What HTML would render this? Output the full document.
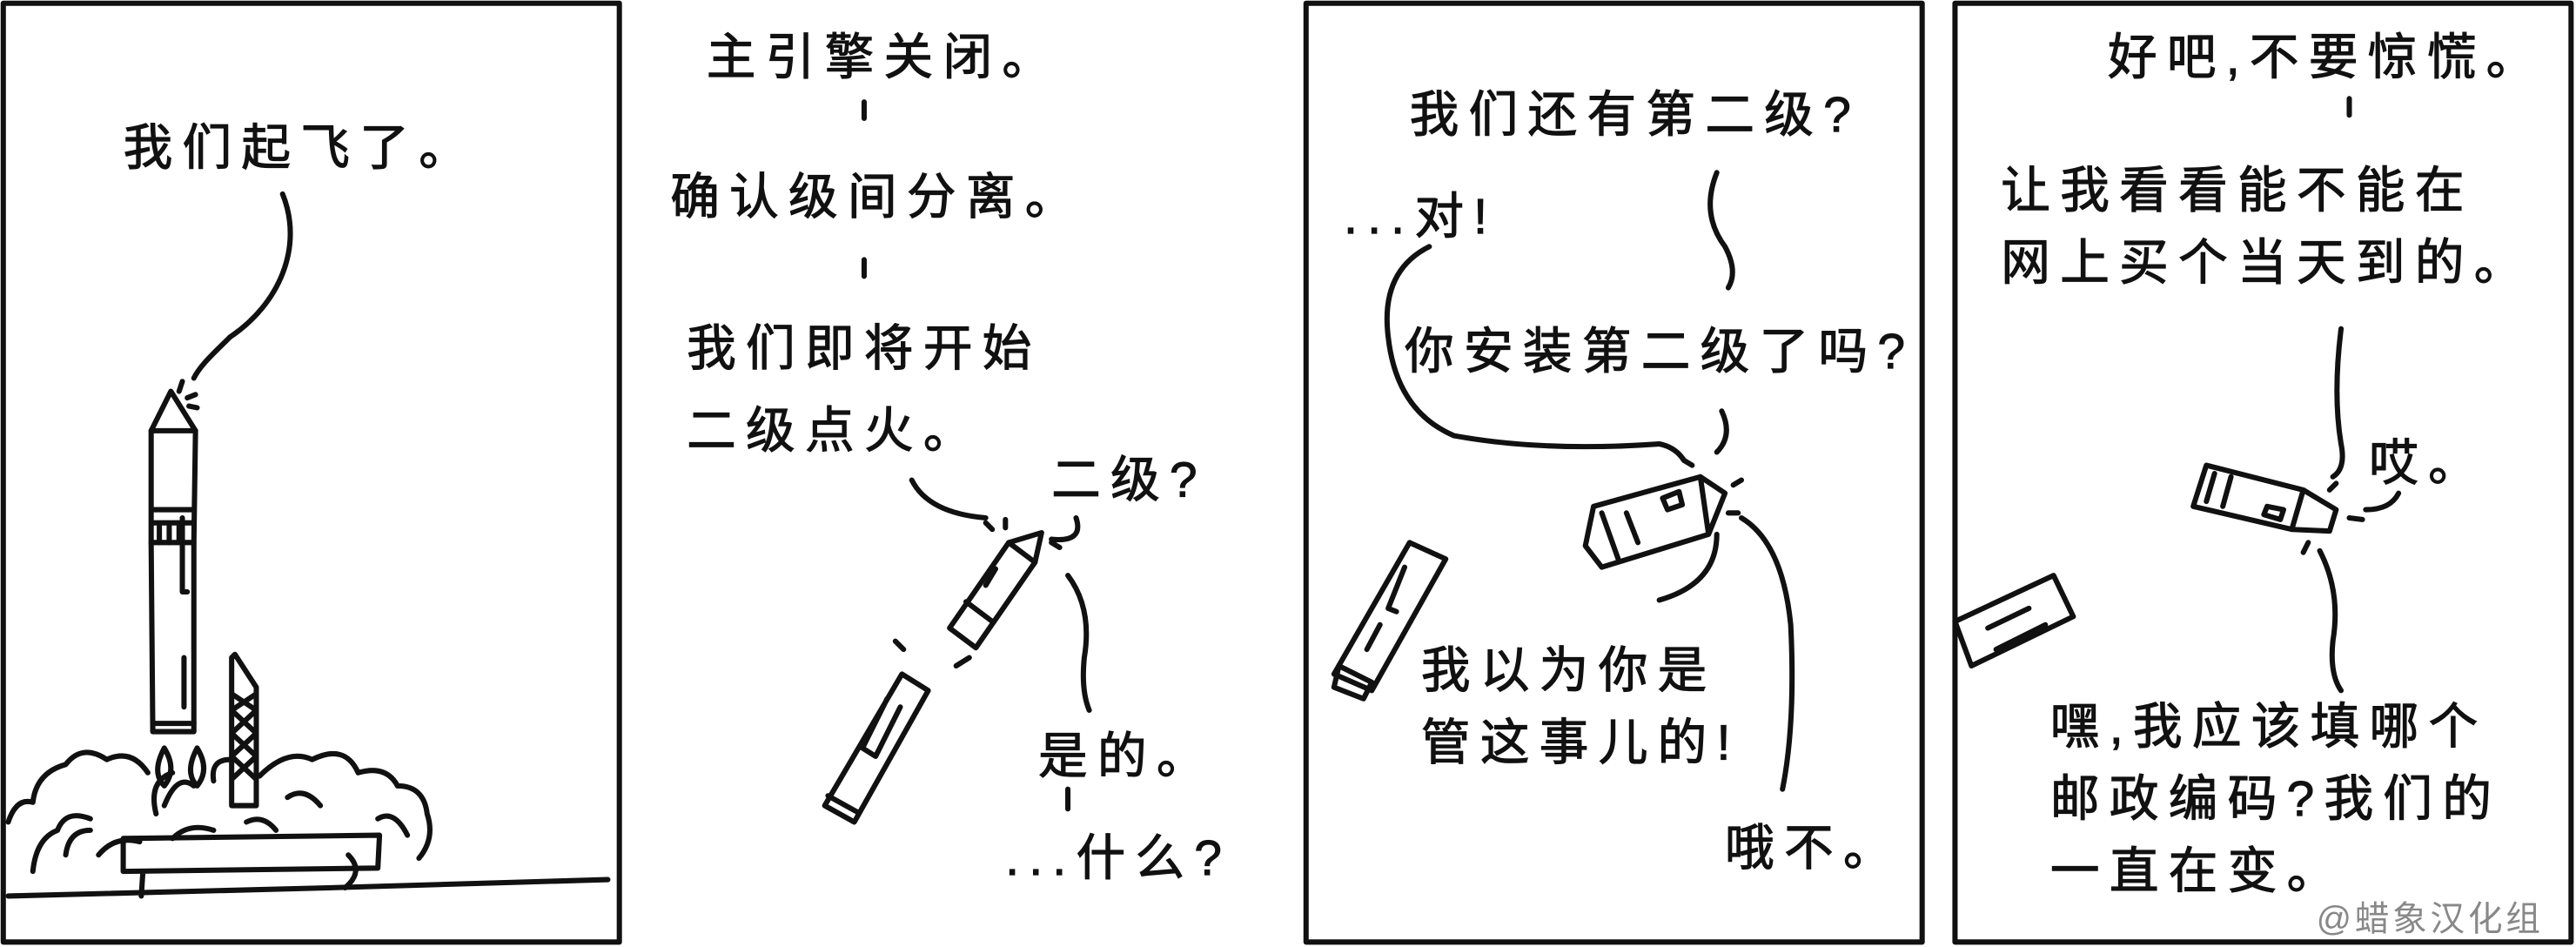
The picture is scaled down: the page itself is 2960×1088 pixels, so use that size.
<!DOCTYPE html>
<html><head><meta charset="utf-8"><style>
html,body{margin:0;padding:0;background:#fff;}
svg{display:block;}
text{font-family:"Liberation Sans","Noto Sans CJK SC","WenQuanYi Zen Hei",sans-serif;font-size:30px;fill:#111;letter-spacing:6px;stroke:#111;stroke-width:0.6px;}
</style></head><body>
<svg width="2960" height="1088" viewBox="0 0 1568 576" preserveAspectRatio="none" xmlns="http://www.w3.org/2000/svg">
<g fill="none" stroke="#111" stroke-width="3.2" stroke-linecap="round" stroke-linejoin="round">
<!-- panel borders -->
<rect x="2" y="2" width="375" height="571"/>
<rect x="795" y="2" width="375" height="571"/>
<rect x="1190" y="2" width="375" height="571"/>

<!-- Panel 1 -->
<path d="M172 118 C185 150,170 185,140 205 C130 215,122 222,118 230"/>
<path d="M104 238 L92 262 L92 330 L93 445 L118 445 L118 330 L119 262 Z"/>
<path d="M92 262 L119 262 M93 310 L118 310 M92 330 L118 330 M93 318 L118 318 M93 440 L118 440"/>
<path d="M97 320 L97 330 M103 320 L103 330 M109 320 L109 330 M111 315 L111 360 L114 360 M112 400 L112 430"/>
<path d="M109 238 L111 232 M114 242 L119 240 M115 247 L120 248"/>
<path d="M143 398 L156 418 L156 490 L141 490 L141 400 Z M141 422 L156 432 M156 422 L141 432 M141 432 L156 446 M156 432 L141 446 M141 446 L156 460 M156 446 L141 460 M141 460 L156 474 M156 460 L141 474"/>
<path d="M100 455 Q92 470 100 478 Q108 468 100 455 M120 455 Q112 470 120 478 Q128 468 120 455"/>
<path d="M75 510 L231 508 L230 528 L75 530 Z M87 530 L86 545"/>
<path d="M5 545 L200 540 L370 535"/>
<path d="M5 500 Q10 485 20 488 Q22 470 40 465 Q50 452 65 462 Q80 455 90 470 M100 490 Q108 470 118 478 M130 475 Q128 462 140 462 M158 472 Q175 455 190 462 Q210 452 218 470 Q235 465 242 478 Q258 478 260 495 Q265 510 255 522 M20 530 Q22 510 35 505 Q40 492 55 498 M40 520 Q42 505 55 505 M60 520 Q70 508 85 512 M230 498 Q240 492 248 508 M212 520 Q222 530 210 540 M95 495 Q90 475 105 470 M105 510 Q115 500 130 505 M175 485 Q185 478 195 490 M150 500 Q160 495 168 505"/>

<!-- Panel 2 -->
<path d="M526 62 L526 72 M526 158 L526 168 M555 292 Q565 312 600 315"/>
<path d="M640 328 Q660 330 655 315 M650 350 Q665 370 660 400 Q658 420 663 432 M650 480 L650 492"/>
<path d="M634 324 L614 330 L578 382 L594 394 L630 342 Z"/>
<path d="M614 330 L630 342 M588 366 L604 378 M606 346 L600 356"/>
<path d="M549 410 L502 490 L520 500 L565 420 Z M540 425 L525 455 L533 460 L548 430"/>
<path d="M504 484 L522 494"/>
<path d="M600 318 L604 322 M612 316 L612 321 M640 330 L645 333 M545 390 L550 395 M582 405 L590 400"/>

<!-- Panel 3 -->
<path d="M1045 105 Q1035 130 1050 150 Q1058 165 1052 175 M1048 250 Q1055 265 1045 275"/>
<path d="M870 150 Q840 165 845 205 Q850 250 885 265 Q940 275 1010 270 Q1020 272 1025 280"/>
<path d="M1060 315 Q1085 330 1090 380 Q1093 440 1085 480 M1045 325 Q1045 355 1010 365"/>
<path d="M1050 300 L1035 290 L970 308 L965 332 L975 345 L1040 325 Z M1035 290 L1040 325"/>
<path d="M1012 303 L1022 299 L1024 307 L1015 310 Z M990 312 L997 330 M975 312 L985 340"/>
<path d="M1025 280 L1030 283 M1055 295 L1060 292 M1052 312 L1058 312"/>
<path d="M858 330 L880 340 L835 420 L812 410 Z M855 345 L845 370 L850 372 M840 380 L832 395"/>
<path d="M815 405 L835 415 L830 425 L812 418 Z"/>

<!-- Panel 4 -->
<path d="M1430 60 L1430 70 M1425 200 Q1420 240 1425 270 Q1428 285 1420 290 M1440 310 Q1455 310 1460 300 M1412 335 Q1425 360 1420 390 Q1418 410 1425 420"/>
<path d="M1343 283 L1402 298 L1422 310 L1418 323 L1395 322 L1335 308 Z M1402 298 L1395 322"/>
<path d="M1348 288 L1343 305 M1358 290 L1353 308 M1380 308 L1390 310 L1388 316 L1378 313 Z"/>
<path d="M1418 298 L1422 294 M1430 315 L1438 316 M1405 330 L1402 336"/>
<path d="M1190 378 L1250 350 L1262 375 L1200 405 Z M1210 382 L1235 370 M1215 395 L1245 380"/>
</g>

<text x="75" y="100">我们起飞了。</text>

<text x="430" y="45">主引擎关闭。</text>
<text x="408" y="130">确认级间分离。</text>
<text x="418" y="222">我们即将开始</text>
<text x="418" y="272">二级点火。</text>
<text x="640" y="302">二级?</text>
<text x="632" y="470">是的。</text>
<text x="612" y="532">...什么?</text>

<text x="858" y="80">我们还有第二级?</text>
<text x="818" y="142">...对!</text>
<text x="855" y="224">你安装第二级了吗?</text>
<text x="865" y="418">我以为你是</text>
<text x="865" y="462">管这事儿的!</text>
<text x="1050" y="526">哦不。</text>

<text x="1283" y="45">好吧,不要惊慌。</text>
<text x="1218" y="126">让我看看能不能在</text>
<text x="1218" y="170">网上买个当天到的。</text>
<text x="1442" y="292">哎。</text>
<text x="1248" y="452">嘿,我应该填哪个</text>
<text x="1248" y="496">邮政编码?我们的</text>
<text x="1248" y="540">一直在变。</text>
<text x="1410" y="566" style="font-size:21px;fill:#888;stroke:none;letter-spacing:2px">@蜡象汉化组</text>
</svg>
</body></html>
